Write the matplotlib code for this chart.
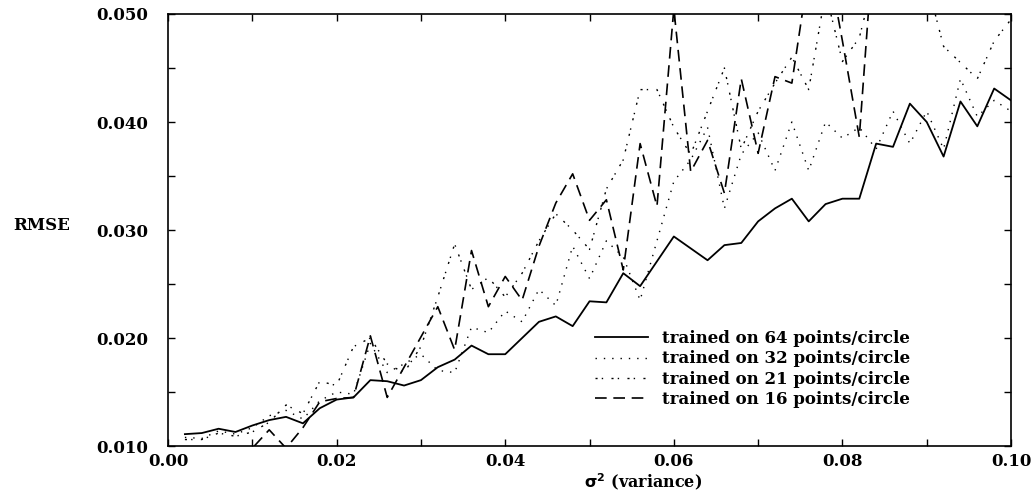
import matplotlib
matplotlib.use("Agg")
import matplotlib.pyplot as plt
from matplotlib.ticker import MultipleLocator, FormatStrFormatter

# noise variance (x axis)
variance = [0.002 * (i + 1) for i in range(50)]

rmse_64 = [0.0111, 0.0112, 0.0116, 0.0113, 0.0119, 0.0124, 0.0127, 0.0121, 0.0135, 0.0143,
           0.0145, 0.0161, 0.0160, 0.0156, 0.0161, 0.0173, 0.0180, 0.0193, 0.0185, 0.0185,
           0.0200, 0.0215, 0.0220, 0.0211, 0.0234, 0.0233, 0.0260, 0.0248, 0.0271, 0.0294,
           0.0283, 0.0272, 0.0286, 0.0288, 0.0308, 0.0320, 0.0329, 0.0308, 0.0324, 0.0329,
           0.0329, 0.0380, 0.0377, 0.0417, 0.0400, 0.0368, 0.0419, 0.0396, 0.0431, 0.0420]

rmse_32 = [0.0108, 0.0107, 0.0114, 0.0111, 0.0117, 0.0128, 0.0133, 0.0125, 0.0142, 0.0150,
           0.0148, 0.0195, 0.0168, 0.0176, 0.0185, 0.0170, 0.0168, 0.0210, 0.0205, 0.0225,
           0.0215, 0.0245, 0.0230, 0.0285, 0.0255, 0.0290, 0.0275, 0.0235, 0.0290, 0.0345,
           0.0365, 0.0395, 0.0320, 0.0370, 0.0390, 0.0355, 0.0400, 0.0355, 0.0400, 0.0385,
           0.0395, 0.0375, 0.0410, 0.0380, 0.0410, 0.0375, 0.0440, 0.0405, 0.0420, 0.0410]

rmse_21 = [0.0106, 0.0106, 0.0112, 0.0109, 0.0113, 0.0122, 0.0138, 0.0130, 0.0160, 0.0156,
           0.0192, 0.0200, 0.0176, 0.0168, 0.0192, 0.0238, 0.0287, 0.0245, 0.0256, 0.0238,
           0.0260, 0.0290, 0.0315, 0.0300, 0.0282, 0.0338, 0.0365, 0.0430, 0.0430, 0.0395,
           0.0370, 0.0410, 0.0450, 0.0375, 0.0410, 0.0436, 0.0460, 0.0430, 0.0520, 0.0456,
           0.0478, 0.0540, 0.0550, 0.0560, 0.0530, 0.0470, 0.0455, 0.0440, 0.0475, 0.0495]

rmse_16 = [0.0080, 0.0085, 0.0090, 0.0092, 0.0098, 0.0115, 0.0098, 0.0117, 0.0141, 0.0144,
           0.0145, 0.0202, 0.0145, 0.0173, 0.0201, 0.0229, 0.0189, 0.0281, 0.0229, 0.0257,
           0.0235, 0.0285, 0.0325, 0.0352, 0.0309, 0.0328, 0.0263, 0.0380, 0.0322, 0.0505,
           0.0354, 0.0383, 0.0334, 0.0440, 0.0371, 0.0442, 0.0436, 0.0540, 0.0560, 0.0475,
           0.0386, 0.0600, 0.0620, 0.0600, 0.0610, 0.0630, 0.0620, 0.0640, 0.0650, 0.0660]

labels = ["trained on 64 points/circle", "trained on 32 points/circle",
          "trained on 21 points/circle", "trained on 16 points/circle"]

FONT = "DejaVu Serif"

fig = plt.figure(figsize=(10.36, 4.91), dpi=100)
ax = fig.add_axes([0.1622, 0.0916, 0.8137, 0.8799])

ax.plot(variance, rmse_64, color="black", lw=1.3, label=labels[0])
ax.plot(variance, rmse_32, color="black", lw=1.0, linestyle=(0, (1, 5)), label=labels[1])
ax.plot(variance, rmse_21, color="black", lw=1.0, linestyle=(0, (1.5, 3, 1, 6)), label=labels[2])
ax.plot(variance, rmse_16, color="black", lw=1.2, linestyle=(0, (7, 4)), label=labels[3])

ax.set_xlim(0.0, 0.1)
ax.set_ylim(0.010, 0.050)
ax.xaxis.set_major_locator(MultipleLocator(0.02))
ax.xaxis.set_minor_locator(MultipleLocator(0.01))
ax.yaxis.set_major_locator(MultipleLocator(0.010))
ax.yaxis.set_minor_locator(MultipleLocator(0.005))
ax.xaxis.set_major_formatter(FormatStrFormatter("%.2f"))
ax.yaxis.set_major_formatter(FormatStrFormatter("%.3f"))
ax.tick_params(which="both", direction="in", top=True, right=True, width=1.0)
ax.tick_params(which="major", length=5, pad=5)
ax.tick_params(which="minor", length=5)
ax.tick_params(axis="y", pad=14)
for lbl in ax.get_xticklabels() + ax.get_yticklabels():
    lbl.set_fontfamily(FONT)
    lbl.set_fontweight("bold")
    lbl.set_fontsize(12)
for sp in ax.spines.values():
    sp.set_linewidth(1.2)

fig.text(42 / 1036, 1 - 225 / 491, "RMSE", family=FONT, weight="bold", fontsize=12,
         ha="center", va="center")
fig.text(643 / 1036, 1 - 482 / 491, r"$\mathbf{\sigma^2}$ (variance)", family=FONT,
         weight="bold", fontsize=11.5, ha="center", va="center")

ax.legend(loc="upper left", bbox_to_anchor=((595 - 168) / 843, (446 - 330) / 432),
          frameon=False, handlelength=3.2, handletextpad=0.8, labelspacing=0.2,
          borderaxespad=0, borderpad=0,
          prop={"family": FONT, "weight": "bold", "size": 12})

fig.savefig("out.png", dpi=100)
